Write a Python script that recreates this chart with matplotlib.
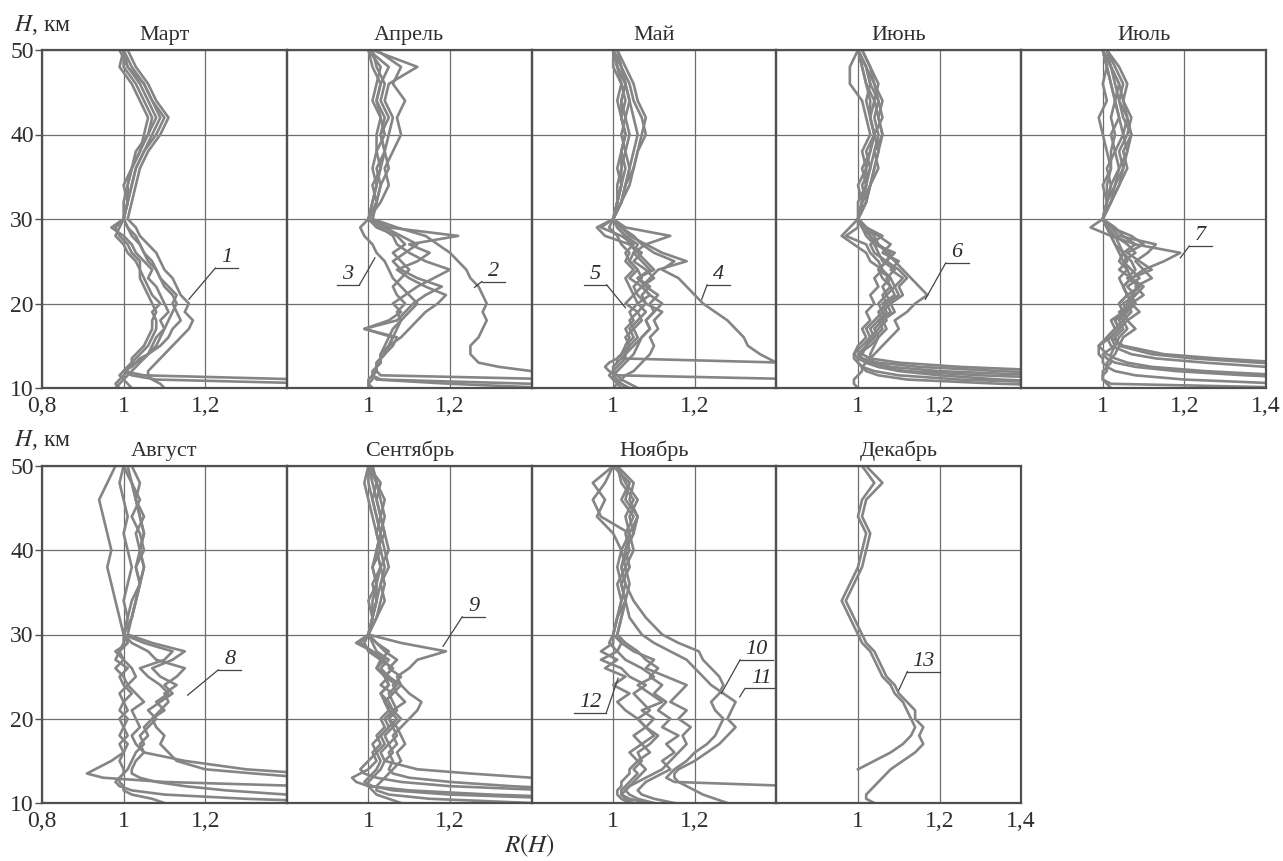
import numpy as np
import matplotlib.pyplot as plt

plt.rcParams["font.family"] = ["Liberation Serif", "DejaVu Serif"]
plt.rcParams["mathtext.fontset"] = "stix"

nan = np.nan

# высоты, км (одна сетка для всех профилей)
h_low = [10, 10.5, 11, 11.5, 12, 12.5, 13, 13.5, 14]
h_mid = list(range(15, 31))
h_high = list(range(32, 51, 2))
heights = h_low + h_mid + h_high

# профили R(H); по 35 значений: 10..14 | 15..30 | 32..50
mart = [
    [1.10, 1.09, 1.07, 1.06, 1.06, 1.07, 1.08, 1.09, 1.10,
     1.12, 1.14, 1.16, 1.17, 1.15, 1.16, 1.14, 1.13, 1.12, 1.10, 1.09, 1.08, 1.06, 1.04, 1.03, 1.01,
     1.02, 1.03, 1.04, 1.06, 1.09, 1.11, 1.08, 1.06, 1.03, 1.01],
    [2.00, 1.80, 1.45, 1.05, 1.00, 1.01, 1.03, 1.04, 1.06,
     1.09, 1.11, 1.12, 1.14, 1.13, 1.12, 1.13, 1.11, 1.09, 1.08, 1.07, 1.05, 1.04, 1.03, 1.01, 1.00,
     1.01, 1.02, 1.03, 1.05, 1.08, 1.10, 1.07, 1.05, 1.02, 1.00],
    [2.00, 1.50, 1.08, 1.02, 1.00, 1.01, 1.02, 1.03, 1.04,
     1.06, 1.07, 1.08, 1.08, 1.07, 1.09, 1.07, 1.06, 1.05, 1.04, 1.04, 1.02, 1.01, 0.99, 0.98, 1.00,
     1.01, 1.01, 1.02, 1.04, 1.06, 1.08, 1.06, 1.04, 1.01, 1.00],
    [0.99, 0.98, 0.99, 1.00, 1.01, 1.01, 1.02, 1.02, 1.03,
     1.05, 1.06, 1.07, 1.07, 1.08, 1.07, 1.06, 1.05, 1.04, 1.04, 1.03, 1.01, 1.00, 0.98, 0.99, 1.00,
     1.00, 1.01, 1.02, 1.03, 1.06, 1.07, 1.05, 1.03, 1.00, 1.00],
    [0.98, 0.99, 1.00, 1.01, 1.02, 1.03, 1.04, 1.05, 1.06,
     1.08, 1.09, 1.10, 1.11, 1.12, 1.13, 1.12, 1.10, 1.09, 1.08, 1.06, 1.05, 1.04, 1.02, 1.01, 1.00,
     1.01, 1.02, 1.03, 1.05, 1.07, 1.09, 1.07, 1.05, 1.01, 0.99],
    [1.02, 1.01, 1.00, 0.99, 1.00, 1.02, 1.03, 1.05, 1.06,
     1.07, 1.08, 1.10, 1.09, 1.11, 1.10, 1.09, 1.08, 1.06, 1.07, 1.05, 1.03, 1.02, 1.00, 0.97, 1.00,
     1.01, 1.00, 1.02, 1.04, 1.05, 1.06, 1.04, 1.02, 0.99, 1.00],
]

aprel = [
    [2.00, 1.90, 1.80, 1.60, 1.40, 1.32, 1.27, 1.26, 1.25,
     1.25, 1.27, 1.28, 1.29, 1.28, 1.29, 1.28, 1.27, 1.25, 1.24, 1.22, 1.20, 1.17, 1.14, 1.07, 1.01,
     1.02, 1.03, 1.02, 1.04, 1.03, 1.05, 1.03, 1.04, 1.02, 1.01],
    [1.00, 1.00, 1.01, 1.01, 1.02, 1.02, 1.03, 1.03, 1.04,
     1.05, 1.06, 1.07, 1.08, 1.10, 1.12, 1.10, 1.08, 1.06, 1.05, 1.04, 1.02, 1.01, 0.99, 0.98, 1.00,
     1.01, 1.02, 1.03, 1.02, 1.04, 1.03, 1.02, 1.03, 1.01, 1.00],
    [1.60, 1.40, 1.03, 1.01, 1.02, 1.02, 1.03, 1.03, 1.04,
     1.05, 1.08, 1.10, 1.12, 1.14, 1.17, 1.19, 1.14, 1.10, 1.07, 1.12, 1.15, 1.10, 1.22, 1.05, 1.00,
     1.03, 1.05, 1.04, 1.06, 1.08, 1.07, 1.09, 1.06, 1.08, 1.02],
    [1.45, 1.20, 1.02, 1.01, 1.02, 1.02, 1.02, 1.03, 1.03,
     1.05, 1.06, 0.99, 1.07, 1.09, 1.11, 1.14, 1.18, 1.12, 1.08, 1.06, 1.09, 1.12, 1.08, 1.04, 1.01,
     1.02, 1.03, 1.05, 1.04, 1.05, 1.06, 1.04, 1.05, 1.12, 1.01],
    [1.90, 1.70, 1.50, 1.03, 1.02, 1.02, 1.03, 1.03, 1.04,
     1.06, 1.07, 0.99, 1.05, 1.08, 1.06, 1.09, 1.12, 1.16, 1.20, 1.14, 1.10, 1.07, 1.06, 1.03, 1.00,
     1.02, 1.01, 1.03, 1.04, 1.03, 1.04, 1.02, 1.03, 1.05, 1.00],
    [1.01, 1.00, 1.00, 1.01, 1.01, 1.02, 1.02, 1.03, 1.03,
     1.04, 1.05, 1.06, 1.08, 1.07, 1.09, 1.07, 1.06, 1.08, 1.10, 1.08, 1.06, 1.09, 1.07, 1.02, 1.00,
     1.01, 1.02, 1.01, 1.02, 1.02, 1.03, 1.01, 1.02, 1.03, 1.00],
]

mai = [
    [1.90, 1.80, 1.70, 1.60, 1.50, 1.45, 1.40, 1.38, 1.36,
     1.33, 1.32, 1.30, 1.28, 1.25, 1.22, 1.20, 1.18, 1.16, 1.12, 1.15, 1.10, 1.07, 1.05, 1.02, 1.00,
     1.02, 1.03, 1.05, 1.06, 1.08, 1.07, 1.05, 1.04, 1.02, 1.01],
    [1.03, 1.02, 1.01, 1.00, 1.00, 1.00, 1.01, 1.01, 1.02,
     1.04, 1.03, 1.05, 1.04, 1.06, 1.03, 1.05, 1.07, 1.04, 1.06, 1.04, 1.03, 1.05, 1.02, 0.97, 1.00,
     1.01, 1.02, 1.03, 1.02, 1.03, 1.02, 1.02, 1.03, 1.01, 1.00],
    [1.90, 1.80, 1.70, 1.60, 1.50, 1.45, 1.42, 1.02, 1.03,
     1.05, 1.07, 1.09, 1.08, 1.10, 1.12, 1.09, 1.07, 1.09, 1.11, 1.18, 1.12, 1.08, 1.14, 1.03, 1.00,
     1.02, 1.03, 1.04, 1.03, 1.04, 1.03, 1.04, 1.03, 1.02, 1.00],
    [1.90, 1.70, 1.50, 1.01, 0.99, 0.98, 0.99, 1.01, 1.02,
     1.03, 1.05, 1.04, 1.06, 1.08, 1.06, 1.09, 1.07, 1.10, 1.08, 1.05, 1.07, 1.04, 0.98, 0.96, 1.00,
     1.01, 1.02, 1.02, 1.03, 1.02, 1.03, 1.02, 1.03, 1.01, 1.00],
    [1.04, 1.02, 1.00, 0.99, 1.00, 1.01, 1.02, 1.03, 1.03,
     1.04, 1.06, 1.05, 1.07, 1.06, 1.08, 1.06, 1.05, 1.07, 1.06, 1.04, 1.05, 1.06, 1.03, 1.01, 1.00,
     1.01, 1.01, 1.02, 1.02, 1.03, 1.02, 1.03, 1.02, 1.01, 1.00],
    [1.02, 1.01, 1.00, 1.00, 1.01, 1.02, 1.03, 1.04, 1.05,
     1.06, 1.07, 1.09, 1.08, 1.10, 1.09, 1.11, 1.08, 1.06, 1.09, 1.07, 1.05, 1.08, 1.04, 1.02, 1.00,
     1.02, 1.03, 1.04, 1.05, 1.06, 1.05, 1.04, 1.03, 1.02, 1.00],
    [1.06, 1.04, 1.02, 1.01, 1.00, 1.00, 1.01, 1.02, 1.03,
     1.03, 1.04, 1.03, 1.05, 1.04, 1.06, 1.05, 1.04, 1.03, 1.05, 1.03, 1.04, 1.02, 1.01, 0.99, 1.00,
     1.01, 1.02, 1.01, 1.02, 1.03, 1.02, 1.01, 1.02, 1.00, 1.00],
    [1.00, 1.01, 1.02, 1.03, 1.05, 1.06, 1.07, 1.08, 1.09,
     1.10, 1.09, 1.11, 1.10, 1.12, 1.08, 1.07, 1.09, 1.06, 1.10, 1.08, 1.06, 1.04, 1.03, 1.01, 1.00,
     1.02, 1.04, 1.05, 1.06, 1.07, 1.08, 1.06, 1.05, 1.03, 1.01],
]

iyun = [
    [1.90, 1.60, 1.35, 1.20, 1.10, 1.05, 1.02, 1.03, 1.04,
     1.06, 1.08, 1.10, 1.09, 1.12, 1.14, 1.17, 1.15, 1.13, 1.11, 1.09, 1.07, 1.05, 1.04, 1.02, 1.00,
     1.01, 1.02, 1.03, 1.04, 1.05, 1.04, 1.05, 1.03, 1.02, 1.00],
    [3.00, 2.50, 2.00, 1.60, 1.35, 1.15, 1.05, 1.01, 1.00,
     1.02, 1.04, 1.06, 1.05, 1.08, 1.07, 1.10, 1.09, 1.11, 1.08, 1.10, 1.06, 1.08, 1.05, 1.02, 1.00,
     1.01, 1.03, 1.04, 1.05, 1.06, 1.05, 1.04, 1.05, 1.03, 1.01],
    [2.50, 2.00, 1.60, 1.30, 1.12, 1.05, 1.02, 1.00, 0.99,
     1.01, 1.03, 1.02, 1.04, 1.06, 1.05, 1.07, 1.06, 1.08, 1.05, 1.07, 1.09, 1.04, 1.03, 1.01, 1.00,
     1.00, 1.02, 1.01, 1.03, 1.04, 1.03, 1.02, 1.03, 1.02, 1.00],
    [2.00, 1.55, 1.25, 1.10, 1.04, 1.01, 1.00, 0.99, 0.99,
     1.00, 1.02, 1.01, 1.03, 1.02, 1.04, 1.03, 1.05, 1.04, 1.06, 1.03, 1.02, 0.99, 0.96, 0.98, 1.00,
     1.01, 1.00, 1.02, 1.01, 1.03, 1.02, 1.01, 0.98, 0.98, 1.00],
    [2.80, 2.20, 1.80, 1.45, 1.20, 1.08, 1.03, 1.01, 1.00,
     1.03, 1.05, 1.07, 1.06, 1.09, 1.08, 1.11, 1.10, 1.12, 1.10, 1.07, 1.08, 1.05, 1.03, 1.02, 1.00,
     1.02, 1.03, 1.05, 1.04, 1.06, 1.05, 1.06, 1.04, 1.02, 1.00],
    [1.00, 0.99, 0.99, 1.00, 1.01, 1.01, 1.02, 1.03, 1.03,
     1.04, 1.05, 1.04, 1.06, 1.05, 1.07, 1.06, 1.08, 1.06, 1.05, 1.07, 1.04, 1.03, 1.06, 1.02, 1.00,
     1.02, 1.01, 1.03, 1.02, 1.04, 1.03, 1.04, 1.02, 1.01, 1.00],
    [1.70, 1.35, 1.12, 1.05, 1.02, 1.01, 1.00, 1.00, 1.01,
     1.02, 1.03, 1.05, 1.07, 1.06, 1.08, 1.07, 1.09, 1.08, 1.06, 1.05, 1.03, 1.02, 0.97, 1.00, 1.00,
     1.01, 1.02, 1.02, 1.03, 1.04, 1.03, 1.03, 1.02, 1.01, 1.00],
    [3.20, 2.80, 2.30, 1.90, 1.50, 1.25, 1.10, 1.03, 1.01,
     1.02, 1.04, 1.03, 1.05, 1.07, 1.06, 1.09, 1.08, 1.07, 1.09, 1.06, 1.05, 1.04, 1.02, 1.01, 1.00,
     1.02, 1.03, 1.04, 1.05, 1.04, 1.06, 1.05, 1.04, 1.03, 1.01],
]

iyul = [
    [3.00, 2.70, 2.40, 2.10, 1.80, 1.55, 1.38, 1.22, 1.12,
     1.04, 1.05, 1.08, 1.06, 1.09, 1.07, 1.10, 1.08, 1.12, 1.10, 1.15, 1.19, 1.08, 1.05, 1.03, 1.00,
     1.02, 1.04, 1.05, 1.06, 1.05, 1.06, 1.04, 1.05, 1.03, 1.01],
    [3.00, 2.60, 2.20, 1.90, 1.60, 1.40, 1.25, 1.13, 1.07,
     1.02, 1.01, 1.03, 1.05, 1.04, 1.07, 1.06, 1.09, 1.07, 1.10, 1.08, 1.11, 1.13, 1.04, 1.02, 1.00,
     1.01, 1.03, 1.04, 1.06, 1.07, 1.05, 1.04, 1.03, 1.02, 1.00],
    [2.50, 2.10, 1.70, 1.45, 1.25, 1.12, 1.06, 1.03, 1.01,
     0.99, 1.01, 1.03, 1.02, 1.05, 1.04, 1.06, 1.05, 1.07, 1.04, 1.06, 1.05, 1.08, 1.02, 0.97, 1.00,
     1.01, 1.00, 1.02, 1.01, 1.00, 0.99, 1.01, 1.00, 1.01, 1.00],
    [1.80, 1.45, 1.20, 1.08, 1.03, 1.01, 1.00, 1.00, 0.99,
     0.99, 1.02, 1.04, 1.03, 1.06, 1.05, 1.08, 1.06, 1.09, 1.07, 1.05, 1.08, 1.06, 1.03, 1.01, 1.00,
     1.02, 1.03, 1.05, 1.04, 1.06, 1.07, 1.05, 1.06, 1.04, 1.01],
    [2.20, 1.90, 1.60, 1.35, 1.18, 1.08, 1.03, 1.01, 1.00,
     1.03, 1.04, 1.06, 1.05, 1.07, 1.06, 1.08, 1.10, 1.07, 1.12, 1.09, 1.06, 1.10, 1.07, 1.02, 1.00,
     1.01, 1.02, 1.04, 1.03, 1.05, 1.04, 1.03, 1.04, 1.02, 1.00],
    [1.50, 1.02, 1.00, 1.00, 1.01, 1.01, 1.02, 1.02, 1.03,
     1.04, 1.03, 1.05, 1.04, 1.06, 1.08, 1.06, 1.05, 1.07, 1.06, 1.04, 1.05, 1.03, 1.02, 1.01, 1.00,
     1.01, 1.02, 1.01, 1.03, 1.02, 1.04, 1.03, 1.02, 1.01, 1.00],
    [3.00, 2.80, 2.50, 2.20, 1.90, 1.65, 1.45, 1.28, 1.15,
     1.05, 1.02, 1.04, 1.06, 1.05, 1.08, 1.07, 1.09, 1.06, 1.08, 1.07, 1.05, 1.04, 1.03, 1.01, 1.00,
     1.02, 1.04, 1.06, 1.05, 1.07, 1.06, 1.05, 1.04, 1.02, 1.01],
    [1.02, 1.01, 1.00, 1.00, 1.00, 1.01, 1.01, 1.02, 1.02,
     1.03, 1.02, 1.04, 1.03, 1.05, 1.04, 1.06, 1.05, 1.04, 1.06, 1.05, 1.04, 1.03, 1.02, 1.01, 1.00,
     1.01, 1.01, 1.02, 1.02, 1.03, 1.02, 1.03, 1.02, 1.01, 1.00],
]

avgust = [
    [3.00, 2.60, 2.20, 1.90, 1.70, 1.55, 1.45, 1.32, 1.20,
     1.13, 1.11, 1.09, 1.10, 1.08, 1.07, 1.09, 1.11, 1.10, 1.13, 1.09, 1.07, 1.12, 1.15, 1.07, 1.01,
     1.02, 1.03, 1.04, 1.05, 1.04, 1.05, 1.04, 1.03, 1.02, 1.01],
    [3.00, 2.50, 2.00, 1.70, 1.45, 1.10, 0.95, 0.91, 0.93,
     0.97, 1.00, 0.99, 1.01, 1.00, 0.99, 1.01, 1.00, 0.99, 1.01, 1.00, 0.98, 1.00, 0.99, 1.01, 1.00,
     0.99, 0.98, 0.97, 0.96, 0.97, 0.96, 0.95, 0.94, 0.96, 0.98],
    [1.10, 1.07, 1.02, 1.00, 1.00, 0.99, 0.99, 1.00, 1.00,
     0.99, 1.00, 1.01, 0.99, 1.00, 1.01, 0.99, 1.00, 1.02, 1.00, 0.99, 1.01, 0.98, 0.99, 1.00, 1.00,
     1.01, 1.00, 1.01, 1.02, 1.01, 1.00, 1.01, 1.00, 0.99, 1.00],
    [1.90, 1.60, 1.40, 1.25, 1.15, 1.08, 1.04, 1.02, 1.02,
     1.03, 1.05, 1.04, 1.06, 1.05, 1.07, 1.10, 1.08, 1.11, 1.09, 1.06, 1.04, 1.10, 1.12, 1.05, 1.00,
     1.02, 1.03, 1.04, 1.03, 1.04, 1.05, 1.04, 1.03, 1.02, 1.00],
    [3.00, 2.80, 2.50, 2.20, 1.90, 1.70, 1.55, 1.45, 1.30,
     1.15, 1.05, 1.03, 1.02, 1.04, 1.03, 1.02, 1.05, 1.03, 1.01, 1.03, 1.02, 1.00, 0.98, 1.01, 1.00,
     1.02, 1.03, 1.04, 1.05, 1.04, 1.03, 1.05, 1.03, 1.04, 1.02],
    [1.60, 1.30, 1.10, 1.02, 0.99, 0.98, 0.99, 1.00, 1.01,
     1.02, 1.03, 1.05, 1.04, 1.06, 1.08, 1.06, 1.09, 1.12, 1.10, 1.13, 1.15, 1.08, 1.06, 1.02, 1.00,
     1.01, 1.02, 1.04, 1.03, 1.05, 1.04, 1.02, 1.04, 1.02, 1.00],
]

sentyabr = [
    [2.50, 2.10, 1.80, 1.55, 1.35, 1.20, 1.10, 1.06, 1.05,
     1.06, 1.05, 1.07, 1.06, 1.08, 1.10, 1.12, 1.13, 1.10, 1.08, 1.07, 1.10, 1.12, 1.19, 1.08, 1.00,
     1.01, 1.02, 1.03, 1.04, 1.03, 1.02, 1.03, 1.02, 1.01, 1.00],
    [3.00, 2.60, 2.30, 2.00, 1.75, 1.55, 1.40, 1.25, 1.12,
     1.04, 1.03, 1.05, 1.04, 1.06, 1.05, 1.07, 1.06, 1.05, 1.07, 1.04, 1.06, 1.03, 1.01, 0.97, 1.00,
     1.01, 1.02, 1.01, 1.03, 1.02, 1.04, 1.03, 1.02, 1.03, 1.00],
    [2.00, 1.60, 1.30, 1.10, 1.00, 0.97, 0.96, 0.98, 1.00,
     1.02, 1.01, 1.03, 1.02, 1.04, 1.03, 1.05, 1.04, 1.06, 1.03, 1.05, 1.02, 1.04, 1.01, 0.98, 1.00,
     1.01, 1.00, 1.02, 1.01, 1.03, 1.02, 1.01, 1.00, 0.99, 1.00],
    [1.08, 1.05, 1.02, 1.01, 1.00, 1.00, 1.01, 1.02, 1.03,
     1.04, 1.06, 1.05, 1.07, 1.06, 1.08, 1.06, 1.09, 1.07, 1.06, 1.08, 1.05, 1.07, 1.04, 1.02, 1.00,
     1.02, 1.03, 1.04, 1.03, 1.05, 1.04, 1.03, 1.04, 1.02, 1.01],
    [2.60, 2.20, 1.80, 1.45, 1.20, 1.08, 1.02, 0.99, 0.98,
     1.00, 1.02, 1.01, 1.03, 1.05, 1.04, 1.06, 1.05, 1.03, 1.05, 1.04, 1.02, 1.03, 1.00, 0.99, 1.00,
     1.01, 1.02, 1.02, 1.03, 1.02, 1.03, 1.02, 1.01, 1.00, 1.00],
    [1.90, 1.50, 1.20, 1.06, 1.01, 0.99, 1.00, 1.01, 1.02,
     1.03, 1.02, 1.04, 1.03, 1.05, 1.07, 1.05, 1.04, 1.06, 1.08, 1.05, 1.03, 1.05, 1.02, 1.01, 1.00,
     1.01, 1.01, 1.02, 1.01, 1.02, 1.03, 1.02, 1.01, 1.02, 1.00],
    [1.40, 1.15, 1.05, 1.02, 1.02, 1.03, 1.04, 1.05, 1.06,
     1.08, 1.07, 1.09, 1.08, 1.07, 1.05, 1.06, 1.04, 1.03, 1.05, 1.04, 1.06, 1.03, 1.05, 1.02, 1.00,
     1.02, 1.04, 1.03, 1.05, 1.04, 1.03, 1.04, 1.03, 1.02, 1.01],
]

noyabr = [
    [2.00, 1.90, 1.80, 1.70, 1.45, 1.15, 1.13, 1.14, 1.15,
     1.18, 1.20, 1.23, 1.25, 1.26, 1.27, 1.25, 1.24, 1.26, 1.27, 1.26, 1.24, 1.22, 1.21, 1.16, 1.12,
     1.08, 1.05, 1.03, 1.02, 1.03, 1.04, 1.03, 1.05, 1.02, 1.01],
    [1.28, 1.25, 1.22, 1.20, 1.18, 1.16, 1.15, 1.15, 1.16,
     1.20, 1.23, 1.26, 1.28, 1.30, 1.28, 1.29, 1.30, 1.27, 1.24, 1.22, 1.20, 1.18, 1.14, 1.10, 1.07,
     1.04, 1.03, 1.02, 1.04, 1.03, 1.05, 1.04, 1.06, 1.03, 1.01],
    [1.05, 1.03, 1.02, 1.03, 1.04, 1.05, 1.06, 1.07, 1.08,
     1.06, 1.09, 1.07, 1.10, 1.08, 1.06, 1.03, 1.01, 1.04, 1.00, 1.03, 0.98, 1.01, 0.97, 1.00, 1.00,
     1.01, 1.02, 1.01, 1.03, 1.02, 1.00, 0.96, 0.98, 0.95, 1.00],
    [1.10, 1.06, 1.04, 1.03, 1.04, 1.06, 1.08, 1.10, 1.12,
     1.14, 1.16, 1.18, 1.17, 1.19, 1.16, 1.18, 1.14, 1.16, 1.18, 1.13, 1.08, 1.10, 1.05, 1.02, 1.01,
     1.02, 1.03, 1.04, 1.03, 1.05, 1.04, 1.06, 1.04, 1.05, 1.01],
    [1.08, 1.04, 1.02, 1.02, 1.03, 1.04, 1.05, 1.06, 1.05,
     1.07, 1.06, 1.09, 1.11, 1.08, 1.10, 1.07, 1.12, 1.09, 1.06, 1.10, 1.07, 1.03, 1.01, 1.02, 1.00,
     1.01, 1.02, 1.03, 1.02, 1.04, 1.03, 1.05, 1.02, 1.04, 1.00],
    [1.04, 1.02, 1.01, 1.01, 1.02, 1.02, 1.03, 1.04, 1.04,
     1.06, 1.04, 1.07, 1.05, 1.08, 1.06, 1.09, 1.07, 1.05, 1.08, 1.04, 1.02, 0.97, 1.01, 0.99, 1.00,
     1.01, 1.03, 1.02, 1.01, 1.02, 1.04, 0.97, 0.95, 0.98, 1.00],
    [1.15, 1.10, 1.07, 1.06, 1.07, 1.08, 1.10, 1.12, 1.14,
     1.12, 1.15, 1.13, 1.16, 1.12, 1.14, 1.11, 1.13, 1.10, 1.12, 1.09, 1.11, 1.08, 1.06, 1.03, 1.01,
     1.02, 1.03, 1.02, 1.04, 1.03, 1.05, 1.06, 1.03, 1.04, 1.00],
]

dekabr = [
    [nan, nan, nan, nan, nan, nan, nan, nan, 1.00,
     1.04, 1.08, 1.11, 1.13, 1.14, 1.13, 1.12, 1.11, 1.09, 1.08, 1.06, 1.05, 1.04, 1.03, 1.01, 1.00,
     0.98, 0.96, 0.98, 1.00, 1.01, 1.02, 1.00, 1.01, 1.04, 1.01],
    [1.04, 1.02, 1.02, 1.03, 1.04, 1.05, 1.06, 1.07, 1.08,
     1.11, 1.14, 1.16, 1.15, 1.16, 1.14, 1.14, 1.12, 1.10, 1.09, 1.07, 1.06, 1.05, 1.04, 1.02, 1.01,
     0.99, 0.97, 0.99, 1.01, 1.02, 1.03, 1.01, 1.02, 1.06, 1.02],
]

titles_top = ["Март", "Апрель", "Май", "Июнь", "Июль"]
titles_bottom = ["Август", "Сентябрь", "Ноябрь", "Декабрь"]
data_top = [mart, aprel, mai, iyun, iyul]
data_bottom = [avgust, sentyabr, noyabr, dekabr]

# номера кривых: (ряд, панель, текст, x текста, y текста, сторона, конец выноски)
labels = [
    (0, 0, "1", 1.253, 25.4, "l", 1.16, 20.5),
    (0, 1, "2", 1.306, 23.8, "l", 1.26, 21.9),
    (0, 1, "3", 0.950, 23.4, "r", 1.016, 25.4),
    (0, 2, "4", 1.258, 23.4, "l", 1.217, 20.5),
    (0, 2, "5", 0.956, 23.4, "r", 1.03, 19.5),
    (0, 3, "6", 1.243, 26.0, "l", 1.165, 20.5),
    (0, 4, "7", 1.240, 28.0, "l", 1.19, 25.4),
    (1, 0, "8", 1.260, 27.0, "l", 1.157, 22.8),
    (1, 1, "9", 1.258, 33.3, "l", 1.183, 28.6),
    (1, 2, "10", 1.351, 28.2, "l", 1.265, 23.0),
    (1, 2, "11", 1.363, 24.8, "l", 1.31, 22.6),
    (1, 2, "12", 0.943, 21.9, "r", 1.012, 24.8),
    (1, 3, "13", 1.161, 26.8, "l", 1.10, 23.4),
]

W, HP = 1283, 861
panel_w = 244.8
rows = [(50, 388), (466, 803)]
line_col = "#858585"
grid_col = "#6e6e6e"
edge_col = "#505050"
text_col = "#2e2e2e"

fig = plt.figure(figsize=(W / 100, HP / 100), dpi=100)
axes = {}

for r, (titles, data) in enumerate([(titles_top, data_top), (titles_bottom, data_bottom)]):
    top, bot = rows[r]
    n = len(titles)
    for i in range(n):
        left = 42 + i * panel_w
        ax = fig.add_axes([left / W, 1 - bot / HP, panel_w / W, (bot - top) / HP])
        axes[(r, i)] = ax
        for prof in data[i]:
            ax.plot(prof, heights, color=line_col, lw=1.9, solid_joinstyle="round")
        ax.set_xlim(0.8, 1.4)
        ax.set_ylim(10, 50)
        ax.set_xticks([0.8, 1.0, 1.2, 1.4])
        xl = ["0,8" if i == 0 else "", "1", "1,2", "1,4" if i == n - 1 else ""]
        ax.set_xticklabels(xl)
        ax.set_yticks([10, 20, 30, 40, 50])
        if i == 0:
            ax.tick_params(axis="y", length=5, width=1, color=edge_col, labelsize=17, pad=1)
        else:
            ax.tick_params(axis="y", length=0, labelleft=False)
        ax.tick_params(axis="x", length=0, labelsize=17, pad=6, labelcolor=text_col)
        ax.tick_params(axis="y", labelcolor=text_col)
        ax.grid(True, color=grid_col, lw=0.9)
        ax.set_axisbelow(True)
        for s in ax.spines.values():
            s.set_color(edge_col)
            s.set_linewidth(1.6)
        ax.set_title(titles[i], fontsize=16, pad=7, color=text_col)

for r, i, txt, tx, ty, side, px, py in labels:
    ax = axes[(r, i)]
    hw = 0.016 + 0.012 * len(txt)
    ax.text(tx, ty, txt, fontsize=16, style="italic", ha="center", va="center",
            color=text_col)
    uy = ty - 1.2
    ax.plot([tx - hw, tx + hw], [uy, uy], color="#444444", lw=0.9)
    sx = tx - hw if side == "l" else tx + hw
    ax.plot([sx, px], [uy, py], color="#444444", lw=0.9)

fig.text(14 / W, 1 - 25 / HP, "$H$, км", fontsize=17, va="center", color=text_col)
fig.text(14 / W, 1 - 440 / HP, "$H$, км", fontsize=17, va="center", color=text_col)
fig.text(530 / W, 1 - 846 / HP, "$R(H)$", fontsize=18, ha="center", va="center",
         color=text_col)

fig.savefig("out.png", dpi=100, facecolor="white")
